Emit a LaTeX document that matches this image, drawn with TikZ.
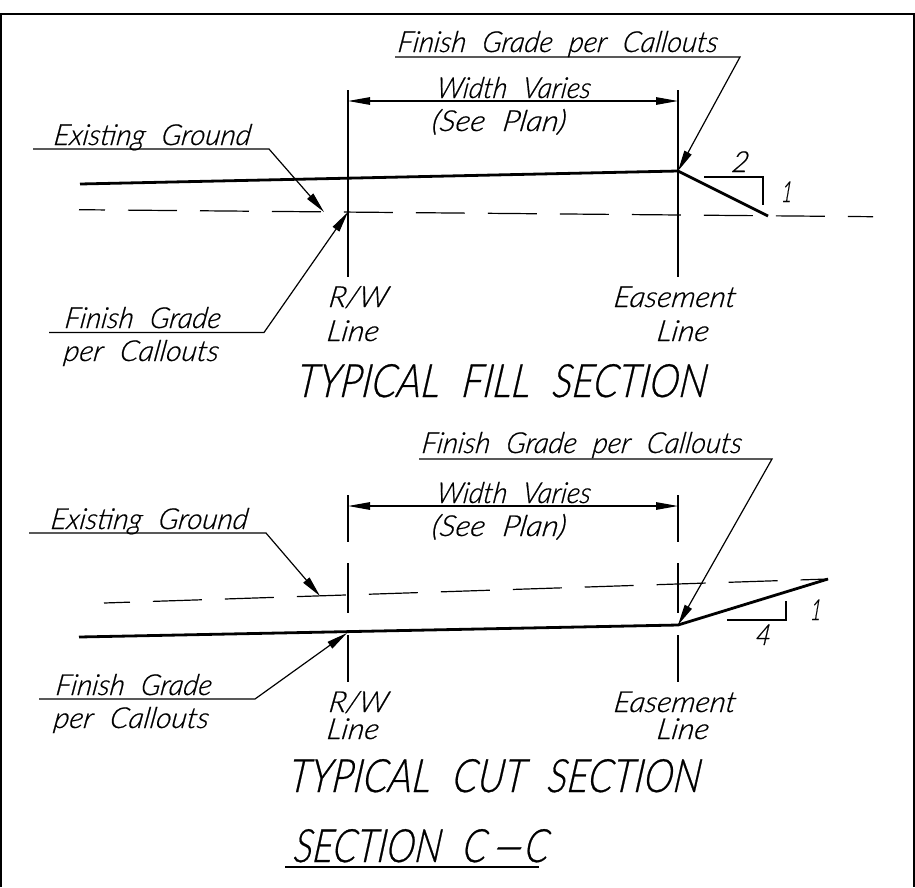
\documentclass[tikz,border=0pt]{standalone}
\usepackage{fontspec}
\usepackage{graphicx}
\usetikzlibrary{arrows.meta}
\newfontfamily\cad{Lato}[UprightFont=* Light Italic,WordSpace=2.2,FakeSlant=0.14,FakeBold=0.6]
\newsavebox\cadbox
\newcommand\fitw[3]{\sbox\cadbox{\fontsize{#2}{#2}\selectfont\cad #3}\pgfmathsetmacro\cadr{(#1+4)/\wd\cadbox}\scalebox{\cadr}[1]{\usebox\cadbox}}
\tikzset{
  frameline/.style={line width=2.2pt,black},
  thinline/.style={line width=1.2pt,black},
  heavyline/.style={line width=2.8pt,black},
  groundline/.style={line width=1.2pt,black,dash pattern=on 49pt off 23pt,dash phase=23pt},
  leader/.style={thinline,-{Triangle[length=21pt,width=8pt]}},
  dimline/.style={thinline,{Triangle[length=22pt,width=7.5pt]}-{Triangle[length=22pt,width=7.5pt]},shorten <=0pt,shorten >=0pt},
  cadtext/.style={anchor=base west,inner sep=0pt,outer sep=0pt,xshift=-2pt},
  cadtitle/.style={anchor=base west,inner sep=0pt,outer sep=0pt,xshift=-4pt},
}
\begin{document}
\begin{tikzpicture}[x=1pt,y=-1pt]
\useasboundingbox (0,0) rectangle (915,887);
\fill[white] (0,0) rectangle (915,887);
\draw[frameline] (1,887) -- (1,14) -- (914,14) -- (914,887);

% ---------- fill section ----------
\coordinate (fRWt) at (348,90);  \coordinate (fRWb) at (348,277);
\coordinate (fEAt) at (678,90);  \coordinate (fEAb) at (678,277);
\coordinate (fDimL) at (348,101); \coordinate (fDimR) at (678,101);
\coordinate (fTop) at (678,171);
\coordinate (fToeS) at (80,184); \coordinate (fToe) at (768,216);
\coordinate (fGndA) at (79,209.7); \coordinate (fGndB) at (873,216.7);
\coordinate (fL1a) at (395,57); \coordinate (fL1b) at (740,57);
\coordinate (fL2a) at (33,149); \coordinate (fL2b) at (269,149); \coordinate (fL2t) at (324,212);
\coordinate (fL3a) at (49,332.5); \coordinate (fL3b) at (264,332.5); \coordinate (fL3t) at (348,212);
\coordinate (fSa) at (704,177); \coordinate (fSb) at (763,177); \coordinate (fSc) at (763,205);

\draw[thinline] (fRWt) -- (fRWb);
\draw[thinline] (fEAt) -- (fEAb);
\draw[dimline] (fDimL) -- (fDimR);
\draw[heavyline] (fToeS) -- (fTop) -- (fToe);
\draw[groundline] (fGndA) -- (fGndB);
\draw[leader] (fL1a) -- (fL1b) -- (fTop);
\draw[leader] (fL2a) -- (fL2b) -- (fL2t);
\draw[leader] (fL3a) -- (fL3b) -- (fL3t);
\draw[thinline] (fSa) -- (fSb) -- (fSc);

\node[cadtext] (ft1) at (399,52) {\fitw{316}{29}{Finish Grade per Callouts}};
\node[cadtext] (ft2) at (438,98) {\fitw{150}{29}{Width Varies}};
\node[cadtext] (ft3) at (433,131) {\fitw{130}{29}{(See Plan)}};
\node[cadtext] (ft4) at (55,145) {\fitw{193}{29}{Existing Ground}};
\node[cadtext] (ft5) at (66,328) {\fitw{152}{29}{Finish Grade}};
\node[cadtext] (ft6) at (65,361) {\fitw{151}{29}{per Callouts}};
\node[cadtext] (ft7) at (330,307) {\fitw{55}{29}{R/W}};
\node[cadtext] (ft8) at (328,341) {\fitw{48}{29}{Line}};
\node[cadtext] (ft9) at (615,307) {\fitw{118}{29}{Easement}};
\node[cadtext] (ft10) at (658,341) {\fitw{48}{29}{Line}};
\node[cadtext] (ft11) at (733,172) {\fitw{13}{29}{2}};
\node[cadtext] (ft12) at (783,202) {\fitw{7}{29}{1}};
\node[cadtitle] (ft13) at (300,397) {\fitw{406}{46}{TYPICAL FILL SECTION}};

% ---------- cut section ----------
\coordinate (cR1) at (348,495); \coordinate (cR2) at (348,542);
\coordinate (cR3) at (348,563); \coordinate (cR4) at (348,613);
\coordinate (cR5) at (348,635); \coordinate (cR6) at (348,682);
\coordinate (cE1) at (678,495); \coordinate (cE2) at (678,542);
\coordinate (cE3) at (678,563); \coordinate (cE4) at (678,613);
\coordinate (cE5) at (678,635); \coordinate (cE6) at (678,682);
\coordinate (cDimL) at (348,506); \coordinate (cDimR) at (678,506);
\coordinate (cTop) at (678,625);
\coordinate (cToeS) at (79,637); \coordinate (cToe) at (828,579);
\coordinate (cGndA) at (104,603); \coordinate (cGndB) at (828,579);
\coordinate (cL1a) at (419,459); \coordinate (cL1b) at (772,459);
\coordinate (cL2a) at (29,533); \coordinate (cL2b) at (266,533); \coordinate (cL2t) at (320,596);
\coordinate (cL3a) at (39,699); \coordinate (cL3b) at (255,699); \coordinate (cL3t) at (347,633);
\coordinate (cSa) at (727,620); \coordinate (cSb) at (786,620); \coordinate (cSc) at (786,601);

\draw[line width=2pt] (cR1) -- (cR2) (cR3) -- (cR4) (cR5) -- (cR6);
\draw[thinline] (cE1) -- (cE2) (cE3) -- (cE4) (cE5) -- (cE6);
\draw[dimline] (cDimL) -- (cDimR);
\draw[heavyline] (cToeS) -- (cTop) -- (cToe);
\draw[groundline] (cGndA) -- (cGndB);
\draw[leader] (cL1a) -- (cL1b) -- (cTop);
\draw[leader] (cL2a) -- (cL2b) -- (cL2t);
\draw[leader] (cL3a) -- (cL3b) -- (cL3t);
\draw[thinline] (cSa) -- (cSb) -- (cSc);

\node[cadtext] (ct1) at (423,453) {\fitw{316}{29}{Finish Grade per Callouts}};
\node[cadtext] (ct2) at (438,503) {\fitw{150}{29}{Width Varies}};
\node[cadtext] (ct3) at (433,536) {\fitw{130}{29}{(See Plan)}};
\node[cadtext] (ct4) at (52,529) {\fitw{193}{29}{Existing Ground}};
\node[cadtext] (ct5) at (57,695) {\fitw{152}{29}{Finish Grade}};
\node[cadtext] (ct6) at (55,728) {\fitw{151}{29}{per Callouts}};
\node[cadtext] (ct7) at (330,712) {\fitw{55}{29}{R/W}};
\node[cadtext] (ct8) at (328,739) {\fitw{48}{29}{Line}};
\node[cadtext] (ct9) at (615,712) {\fitw{118}{29}{Easement}};
\node[cadtext] (ct10) at (658,739) {\fitw{48}{29}{Line}};
\node[cadtext] (ct11) at (757,645) {\fitw{11}{29}{4}};
\node[cadtext] (ct12) at (812,620) {\fitw{7}{29}{1}};
\node[cadtitle] (ct13) at (292,792) {\fitw{408}{46}{TYPICAL CUT SECTION}};

% ---------- title ----------
\node[cadtitle] (title) at (297,862) {\fitw{251}{46}{SECTION C\scalebox{2.8}[1]{-}C}};
\coordinate (tU1) at (285,867); \coordinate (tU2) at (539,867);
\draw[line width=2.4pt] (tU1) -- (tU2);
\end{tikzpicture}
\end{document}
